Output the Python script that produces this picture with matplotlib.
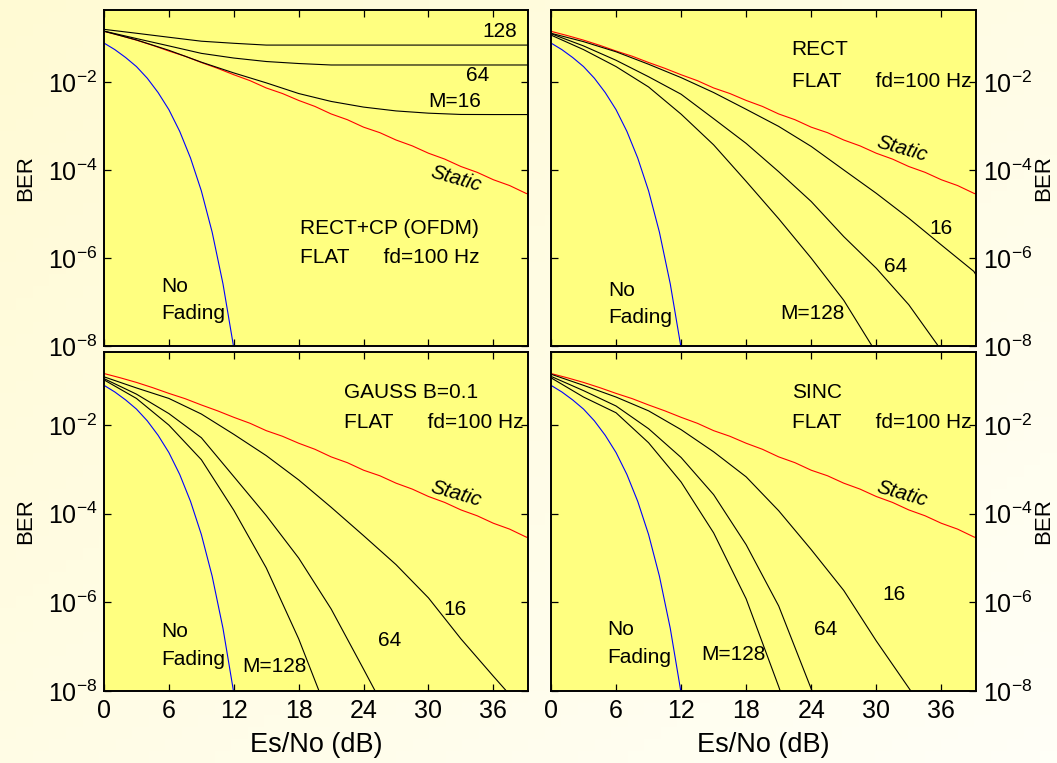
import numpy as np
import matplotlib
matplotlib.use("Agg")
import matplotlib.pyplot as plt
from matplotlib.ticker import FixedLocator, NullLocator

plt.rcParams['font.family'] = ['Liberation Sans', 'DejaVu Sans']
plt.rcParams['mathtext.fontset'] = 'custom'
plt.rcParams['mathtext.rm'] = 'Liberation Sans'
plt.rcParams['mathtext.it'] = 'Liberation Sans:italic'
plt.rcParams['axes.unicode_minus'] = False

# ---------------- data ----------------
# x grids (Es/No in dB)
x_awgn = [0, 1, 2, 3, 4, 5, 6, 7, 8, 9, 10, 11, 12]
x_static = [0, 1.5, 3, 4.5, 6, 7.5, 9, 10.5, 12, 13.5, 15, 16.5, 18, 19.5, 21,
            22.5, 24, 25.5, 27, 28.5, 30, 31.5, 33, 34.5, 36, 37.5, 39, 40]
x_m = [0, 3, 6, 9, 12, 15, 18, 21, 24, 27, 30, 33, 36, 39, 42]

# No fading (blue)
ber_awgn = [7.9e-2, 5.6e-2, 3.7e-2, 2.3e-2, 1.25e-2, 5.9e-3, 2.4e-3, 7.7e-4,
            1.9e-4, 3.4e-5, 3.9e-6, 2.6e-7, 9.0e-9]

# Static fading (red)
ber_static = [1.46e-1, 1.17e-1, 9.2e-2, 7.0e-2, 5.2e-2, 3.95e-2, 2.85e-2, 2.1e-2,
              1.50e-2, 1.10e-2, 7.5e-3, 5.6e-3, 3.9e-3, 2.85e-3, 1.92e-3, 1.42e-3,
              9.6e-4, 7.2e-4, 4.9e-4, 3.6e-4, 2.45e-4, 1.8e-4, 1.22e-4, 9.0e-5,
              6.1e-5, 4.5e-5, 3.0e-5, 2.45e-5]

# Panel 1: RECT+CP (OFDM)
ofdm_16 = [1.47e-1, 9.3e-2, 5.4e-2, 2.9e-2, 1.65e-2, 9.8e-3, 5.6e-3, 3.7e-3,
           2.75e-3, 2.25e-3, 2.0e-3, 1.87e-3, 1.86e-3, 1.86e-3, 1.86e-3]
ofdm_64 = [1.48e-1, 1.0e-1, 6.8e-2, 4.6e-2, 3.6e-2, 3.0e-2, 2.7e-2, 2.5e-2,
           2.5e-2, 2.5e-2, 2.5e-2, 2.5e-2, 2.5e-2, 2.5e-2, 2.5e-2]
ofdm_128 = [1.62e-1, 1.32e-1, 1.07e-1, 8.7e-2, 7.8e-2, 7.1e-2, 7.1e-2, 7.1e-2,
            7.1e-2, 7.1e-2, 7.1e-2, 7.1e-2, 7.1e-2, 7.1e-2, 7.1e-2]

# Panel 2: RECT
rect_16 = [1.32e-1, 8.5e-2, 5.0e-2, 2.6e-2, 1.29e-2, 5.9e-3, 2.45e-3, 1.0e-3,
           3.5e-4, 1.02e-4, 3.0e-5, 8.1e-6, 2.0e-6, 5.0e-7, 3.0e-8]
rect_64 = [1.29e-1, 6.8e-2, 3.2e-2, 1.35e-2, 5.4e-3, 1.5e-3, 4.1e-4, 9.3e-5,
           1.95e-5, 3.1e-6, 5.9e-7, 8.7e-8, 8.0e-9]
rect_128 = [1.2e-1, 5.6e-2, 2.3e-2, 7.9e-3, 1.9e-3, 3.8e-4, 5.6e-5, 7.9e-6,
            1.0e-6, 1.1e-7, 7.0e-9]

# Panel 3: GAUSS B=0.1
gauss_16 = [1.23e-1, 6.9e-2, 4.0e-2, 1.78e-2, 6.2e-3, 2.05e-3, 5.8e-4, 1.4e-4,
            3.2e-5, 7.1e-6, 1.26e-6, 1.5e-7, 2.15e-8, 3.2e-9]
gauss_64 = [1.12e-1, 5.0e-2, 1.82e-2, 5.2e-3, 6.9e-4, 9.1e-5, 1.0e-5, 7.1e-7,
            3.1e-8, 1.3e-9]
gauss_128 = [1.05e-1, 4.0e-2, 1.0e-2, 1.66e-3, 1.2e-4, 6.0e-6, 1.5e-7, 2.0e-9]

# Panel 4: SINC
sinc_16 = [1.41e-1, 7.9e-2, 4.3e-2, 2.1e-2, 7.9e-3, 2.5e-3, 6.8e-4, 1.17e-4,
           1.55e-5, 1.86e-6, 1.35e-7, 1.17e-8, 1.0e-9]
sinc_64 = [1.26e-1, 6.0e-2, 2.7e-2, 8.3e-3, 1.86e-3, 2.7e-4, 2.0e-5, 8.3e-7,
           1.12e-8, 2.0e-10]
sinc_128 = [1.17e-1, 4.3e-2, 1.9e-2, 4.0e-3, 5.2e-4, 3.7e-5, 1.2e-6, 1.26e-8,
            1.0e-10]

x_ticks = [0, 6, 12, 18, 24, 30, 36]
y_ticks = [1e-8, 1e-6, 1e-4, 1e-2]
y_ticklabels = [r'$\mathdefault{10^{-8}}$', r'$\mathdefault{10^{-6}}$',
                r'$\mathdefault{10^{-4}}$', r'$\mathdefault{10^{-2}}$']

flat_txt = "FLAT      fd=100 Hz"
panels = [
    dict(curves=[ofdm_16, ofdm_64, ofdm_128]),
    dict(curves=[rect_16, rect_64, rect_128]),
    dict(curves=[gauss_16, gauss_64, gauss_128]),
    dict(curves=[sinc_16, sinc_64, sinc_128]),
]

# ---------------- figure ----------------
W, H = 1057, 763
fig = plt.figure(figsize=(W / 100, H / 100), dpi=100)

# soft yellow-to-white background gradient
bg = fig.add_axes([0, 0, 1, 1], zorder=-10)
gx, gy = np.meshgrid(np.linspace(0, 1, 64), np.linspace(0, 1, 64))
t = np.clip((gx + gy) / 2.0, 0, 1)
c0 = np.array([255, 250, 212]) / 255.0
c1 = np.array([255, 255, 247]) / 255.0
img = c0[None, None, :] * (1 - t[..., None]) + c1[None, None, :] * t[..., None]
bg.imshow(img, aspect='auto', extent=[0, 1, 0, 1], origin='upper')
bg.set_axis_off()

def fx(px):
    return px / W

def fy(py):
    return 1 - py / H

rects = [
    [fx(104), fy(346), fx(424), 336 / H],
    [fx(551), fy(346), fx(425), 336 / H],
    [fx(104), fy(691), fx(424), 339 / H],
    [fx(551), fy(691), fx(425), 339 / H],
]

face = '#FFFF80'
axes = []
for i, (r, p) in enumerate(zip(rects, panels)):
    ax = fig.add_axes(r)
    ax.set_facecolor(face)
    ax.set_yscale('log')
    ax.set_xlim(0, 39.2)
    ax.set_ylim(1e-8, 10 ** -0.35)
    # curves
    ax.plot(x_static, ber_static, color='#FF0000', lw=0.8)
    ax.plot(x_awgn, ber_awgn, color='#0000FF', lw=0.8)
    for c in p['curves']:
        ax.plot(x_m[:len(c)], c, color='black', lw=0.8)
    ax.xaxis.set_major_locator(FixedLocator(x_ticks))
    ax.yaxis.set_major_locator(FixedLocator(y_ticks))
    ax.yaxis.set_minor_locator(NullLocator())
    ax.xaxis.set_minor_locator(NullLocator())
    ax.tick_params(which='both', direction='in', top=True, right=True,
                   length=5, width=0.9, labelsize=18)
    ax.tick_params(axis='y', pad=5)
    ax.tick_params(axis='x', pad=6)
    ax.set_xticklabels([str(v) for v in x_ticks])
    ax.set_yticklabels(y_ticklabels)
    if i in (1, 3):
        ax.tick_params(labelleft=False, labelright=True)
    if i in (0, 1):
        ax.tick_params(labelbottom=False)
    for s in ax.spines.values():
        s.set_linewidth(1.4)
    axes.append(ax)

fs = 15
def lab(ax, x, ylog, s, **kw):
    ax.text(x, 10 ** ylog, s, ha='left', va='center', fontsize=fs, **kw)

def static_lab(ax, x, ylog):
    ax.text(x, 10 ** ylog, "Static", ha='left', va='center', fontsize=15,
            style='italic', rotation=-16, rotation_mode='anchor')

# Panel 1
a = axes[0]
lab(a, 35.0, -0.85, "128")
lab(a, 33.5, -1.85, "64")
lab(a, 30.0, -2.44, "M=16")
static_lab(a, 30.2, -4.03)
lab(a, 18.1, -5.33, "RECT+CP (OFDM)")
lab(a, 18.1, -5.98, flat_txt)
lab(a, 5.3, -6.64, "No")
lab(a, 5.3, -7.27, "Fading")

# Panel 2
a = axes[1]
lab(a, 22.2, -1.25, "RECT")
lab(a, 22.2, -1.97, flat_txt)
static_lab(a, 30.1, -3.36)
lab(a, 34.9, -5.32, "16")
lab(a, 30.7, -6.19, "64")
lab(a, 21.1, -7.27, "M=128")
lab(a, 5.3, -6.73, "No")
lab(a, 5.3, -7.36, "Fading")

# Panel 3
a = axes[2]
lab(a, 22.2, -1.27, "GAUSS B=0.1")
lab(a, 22.2, -1.95, flat_txt)
static_lab(a, 30.2, -3.39)
lab(a, 31.4, -6.15, "16")
lab(a, 25.3, -6.86, "64")
lab(a, 12.8, -7.44, "M=128")
lab(a, 5.3, -6.66, "No")
lab(a, 5.3, -7.30, "Fading")

# Panel 4
a = axes[3]
lab(a, 22.2, -1.27, "SINC")
lab(a, 22.2, -1.95, flat_txt)
static_lab(a, 30.1, -3.40)
lab(a, 30.6, -5.83, "16")
lab(a, 24.3, -6.61, "64")
lab(a, 13.9, -7.17, "M=128")
lab(a, 5.2, -6.61, "No")
lab(a, 5.2, -7.24, "Fading")

# axis labels
for yc in (178, 521):
    fig.text(fx(26), fy(yc), "BER", rotation=90, ha='center', va='center', fontsize=16)
    fig.text(fx(1044), fy(yc), "BER", rotation=90, ha='center', va='center', fontsize=16)
for xc in (316, 763):
    fig.text(fx(xc), fy(745), "Es/No (dB)", ha='center', va='center', fontsize=19.5)

fig.savefig("out.png", dpi=100)
